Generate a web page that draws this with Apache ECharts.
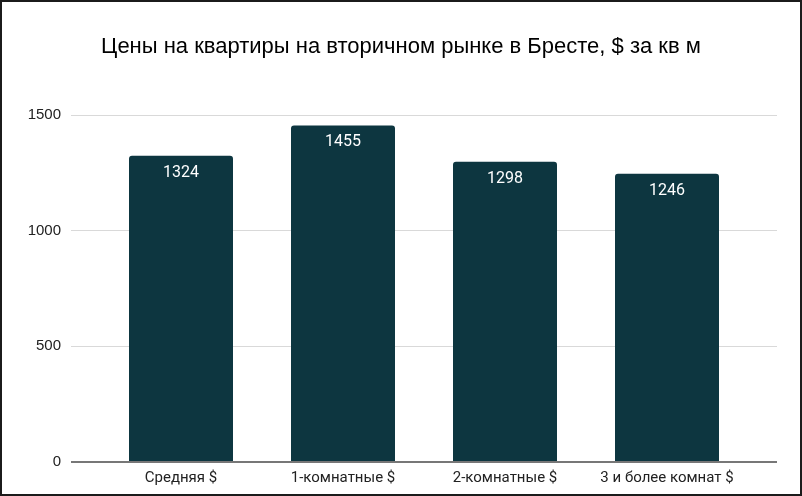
<!DOCTYPE html>
<html>
<head>
<meta charset="utf-8">
<script src="https://cdn.jsdelivr.net/npm/echarts@6/dist/echarts.min.js"></script>
<style>
html, body { margin:0; padding:0; background:#fff; }
#chart { position:absolute; left:0; top:0; width:802px; height:496px; }
#frame { position:absolute; left:0; top:0; width:802px; height:496px; box-sizing:border-box; border:2px solid #1b1b1b; pointer-events:none; }
</style>
</head>
<body>
<div id="chart"></div>
<div id="frame"></div>
<script>
var categories = ['Средняя $', '1-комнатные $', '2-комнатные $', '3 и более комнат $'];
var prices = [1324, 1455, 1298, 1246];
var yTicks = [0, 500, 1000, 1500];

var myChart = echarts.init(document.getElementById('chart'));
var option = {
  animation: false,
  title: {
    text: 'Цены на квартиры на вторичном рынке в Бресте, $ за кв м',
    left: 'center',
    top: 31,
    textStyle: { fontFamily: 'Liberation Sans', fontSize: 22, fontWeight: 'normal', color: '#000' }
  },
  grid: [
    // фон: сетка и подписи оси Y
    { left: 71, right: 25, top: 115, bottom: 34 },
    // столбцы
    { left: 100, right: 54, top: 115, bottom: 34 }
  ],
  xAxis: [
    { type: 'category', gridIndex: 0, data: [''], show: false },
    {
      type: 'category', gridIndex: 1, data: categories,
      axisLine: { show: false }, axisTick: { show: false },
      axisLabel: { interval: 0, margin: 9, fontFamily: 'Roboto', fontSize: 15, color: '#222' }
    }
  ],
  yAxis: [
    {
      type: 'value', gridIndex: 0, min: yTicks[0], max: yTicks[yTicks.length - 1], interval: 500,
      axisLine: { show: false }, axisTick: { show: false },
      axisLabel: {
        margin: 10, fontFamily: 'Liberation Sans', fontSize: 15, color: '#222',
        formatter: function(v){ return String(v); }
      },
      splitLine: { lineStyle: { color: '#d9d9d9', width: 1 } }
    },
    {
      type: 'value', gridIndex: 1, min: yTicks[0], max: yTicks[yTicks.length - 1], interval: 500,
      show: false, splitLine: { show: false }
    }
  ],
  series: [
    {
      type: 'bar', xAxisIndex: 1, yAxisIndex: 1,
      data: prices,
      barWidth: 104,
      itemStyle: { color: '#0d3640', borderRadius: [3, 3, 0, 0] },
      label: {
        show: true, position: 'insideTop', distance: 9,
        color: '#fff', fontFamily: 'Roboto', fontSize: 16
      }
    },
    {
      // линия нуля по всей ширине
      type: 'line', xAxisIndex: 0, yAxisIndex: 0, data: [],
      markLine: {
        silent: true, symbol: 'none', label: { show: false },
        lineStyle: { color: '#777', width: 2, type: 'solid' },
        data: [{ yAxis: yTicks[0] }]
      }
    }
  ]
};
myChart.setOption(option);
window.addEventListener('resize', function(){ myChart.resize(); });
</script>
</body>
</html>
